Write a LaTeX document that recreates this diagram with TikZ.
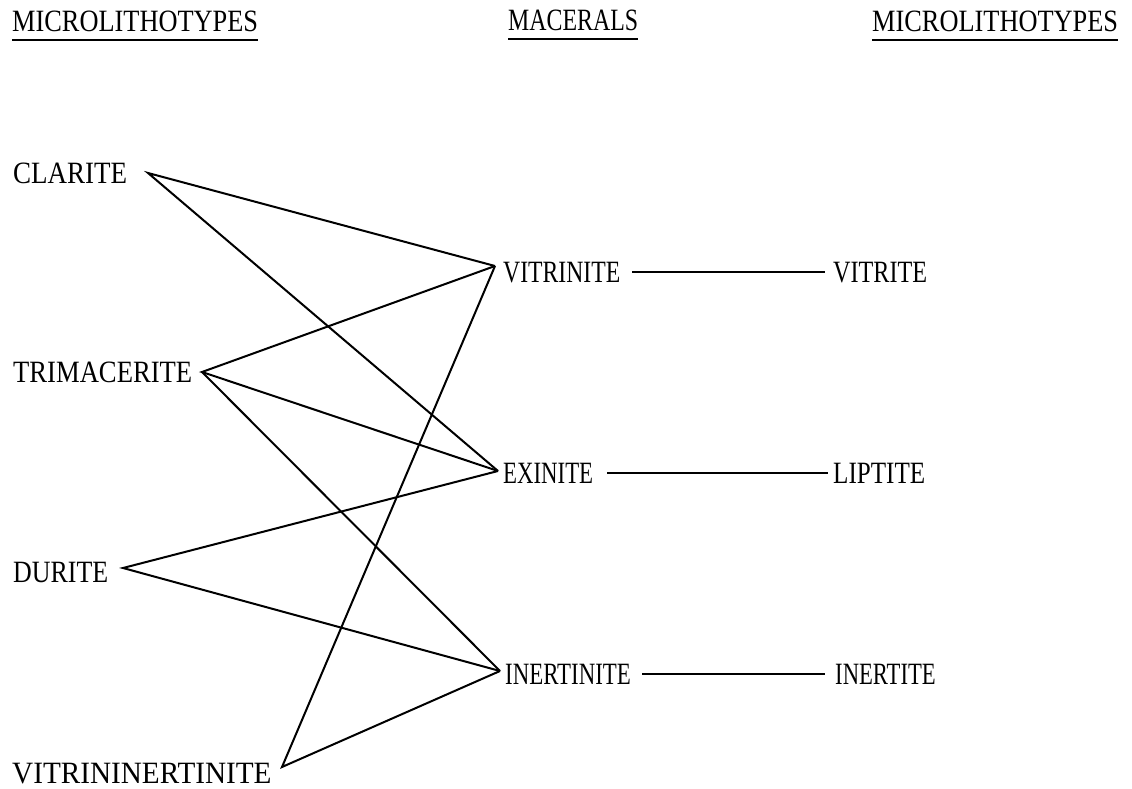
\documentclass[tikz,border=0pt]{standalone}
\usepackage{fontspec}
\setmainfont{Liberation Serif}
\begin{document}
\begin{tikzpicture}[x=1pt,y=-1pt,
  lbl/.style={anchor=base west,inner sep=0pt,font=\fontsize{31}{36}\selectfont},
  conn/.style={line width=2pt,line join=miter},
  uline/.style={line width=2pt}]
\useasboundingbox (0,0) rectangle (1132,789);
% headers
\node[lbl] (h1) at (12,32) {\scalebox{0.850}[1]{MICROLITHOTYPES}};
\node[lbl] (h2) at (508,31) {\scalebox{0.770}[1]{MACERALS}};
\node[lbl] (h3) at (872,32) {\scalebox{0.850}[1]{MICROLITHOTYPES}};
\draw[uline] ([yshift=-8pt]h1.base west) -- ([yshift=-8pt]h1.base east);
\draw[uline] ([yshift=-8pt]h2.base west) -- ([yshift=-8pt]h2.base east);
\draw[uline] ([yshift=-8pt]h3.base west) -- ([yshift=-8pt]h3.base east);
% left column
\node[lbl] (cla) at (13,183) {\scalebox{0.871}[1]{CLARITE}};
\node[lbl] (tri) at (13,382) {\scalebox{0.859}[1]{TRIMACERITE}};
\node[lbl] (dur) at (13,582) {\scalebox{0.836}[1]{DURITE}};
\node[lbl] (vin) at (12,783) {\scalebox{0.942}[1]{VITRININERTINITE}};
% middle column
\node[lbl] (vit) at (503,282) {\scalebox{0.764}[1]{VITRINITE}};
\node[lbl] (exi) at (503,483) {\scalebox{0.736}[1]{EXINITE}};
\node[lbl] (ine) at (505,684) {\scalebox{0.738}[1]{INERTINITE}};
% right column
\node[lbl] (vtr) at (833,282) {\scalebox{0.780}[1]{VITRITE}};
\node[lbl] (lip) at (833,483) {\scalebox{0.810}[1]{LIPTITE}};
\node[lbl] (int) at (835,684) {\scalebox{0.731}[1]{INERTITE}};
% connection points
\coordinate (pcla) at (148,173);
\coordinate (ptri) at (202,372);
\coordinate (pdur) at (123,568);
\coordinate (pvin) at (282,767);
\coordinate (pvit) at (495,266);
\coordinate (pexi) at (498,471);
\coordinate (pine) at (500,671);
% connectors
\draw[conn] (pvit) -- (pcla) -- (pexi);
\draw[conn] (pvit) -- (ptri) -- (pexi);
\draw[conn] (ptri) -- (pine);
\draw[conn] (pexi) -- (pdur) -- (pine);
\draw[conn] (pvit) -- (pvin) -- (pine);
% horizontal lines
\coordinate (a1) at (632,272); \coordinate (b1) at (825,272);
\coordinate (a2) at (607,473); \coordinate (b2) at (828,473);
\coordinate (a3) at (642,674); \coordinate (b3) at (825,674);
\draw[conn] (a1) -- (b1);
\draw[conn] (a2) -- (b2);
\draw[conn] (a3) -- (b3);
\end{tikzpicture}
\end{document}
